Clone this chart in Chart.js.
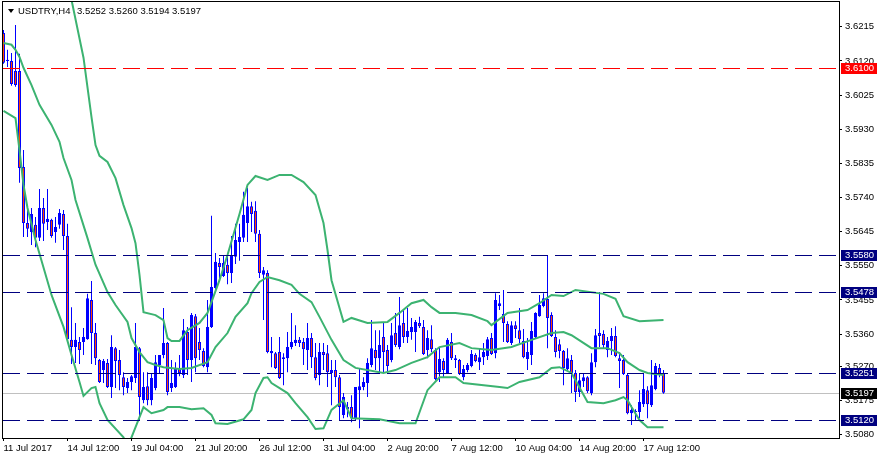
<!DOCTYPE html>
<html>
<head>
<meta charset="utf-8">
<script src="https://cdn.jsdelivr.net/npm/chart.js@4.4.0/dist/chart.umd.min.js"></script>
<style>
  html, body { margin: 0; padding: 0; background: #fff; }
</style>
</head>
<body>
<canvas id="chart" width="879" height="459"></canvas>
<script>
// USDTRY H4 candles, bar 0 = leftmost visible bar
const opens = [3.6198,3.6120,3.6120,3.6092,3.6092,3.5825,3.5669,3.5644,3.5664,3.5628,
  3.5711,3.5672,3.5678,3.5644,3.5664,3.5694,3.5633,3.5344,3.5324,3.5338,
  3.5338,3.5346,3.5455,3.5363,3.5288,3.5260,3.5280,3.5213,3.5321,3.5288,
  3.5240,3.5210,3.5227,3.5238,3.5321,3.5176,3.5215,3.5176,3.5210,3.5274,
  3.5302,3.5335,3.5210,3.5213,3.5263,3.5246,3.5366,3.5288,3.5410,3.5338,
  3.5313,3.5268,3.5380,3.5488,3.5558,3.5522,3.5553,3.5530,3.5575,3.5616,
  3.5628,3.5669,3.5716,3.5703,3.5639,3.5525,3.5530,3.5307,3.5307,3.5310,
  3.5291,3.5293,3.5324,3.5335,3.5344,3.5338,3.5316,3.5349,3.5296,3.5246,
  3.5310,3.5307,3.5252,3.5260,3.5240,3.5135,3.5151,3.5157,3.5123,3.5204,
  3.5213,3.5224,3.5274,3.5316,3.5293,3.5352,3.5316,3.5288,3.5363,3.5324,
  3.5391,3.5352,3.5366,3.5366,3.5391,3.5380,3.5316,3.5346,3.5316,3.5254,
  3.5285,3.5252,3.5338,3.5288,3.5288,3.5240,3.5260,3.5271,3.5302,3.5282,
  3.5296,3.5299,3.5349,3.5307,3.5438,3.5416,3.5388,3.5335,3.5385,3.5371,
  3.5341,3.5291,3.5302,3.5352,3.5410,3.5438,3.5458,3.5413,3.5352,3.5332,
  3.5313,3.5263,3.5288,3.5252,3.5199,3.5229,3.5240,3.5196,3.5282,3.5363,
  3.5360,3.5316,3.5341,3.5355,3.5293,3.5288,3.5246,3.5140,3.5143,3.5143,
  3.5165,3.5204,3.5162,3.5207,3.5266,3.5252];
const highs = [3.6206,3.6151,3.6142,3.6220,3.6140,3.5872,3.5714,3.5711,3.5686,3.5764,
  3.5739,3.5764,3.5681,3.5686,3.5708,3.5705,3.5667,3.5435,3.5391,3.5352,
  3.5377,3.5472,3.5508,3.5391,3.5291,3.5291,3.5291,3.5357,3.5324,3.5316,
  3.5254,3.5238,3.5246,3.5391,3.5324,3.5254,3.5254,3.5252,3.5302,3.5302,
  3.5433,3.5338,3.5288,3.5282,3.5302,3.5402,3.5380,3.5419,3.5416,3.5377,
  3.5321,3.5455,3.5689,3.5586,3.5572,3.5577,3.5580,3.5633,3.5667,3.5667,
  3.5756,3.5767,3.5728,3.5730,3.5650,3.5547,3.5538,3.5352,3.5310,3.5352,
  3.5307,3.5366,3.5419,3.5385,3.5352,3.5349,3.5391,3.5363,3.5335,3.5335,
  3.5335,3.5330,3.5288,3.5288,3.5246,3.5196,3.5171,3.5190,3.5213,3.5263,
  3.5240,3.5293,3.5399,3.5371,3.5371,3.5394,3.5330,3.5391,3.5419,3.5463,
  3.5427,3.5433,3.5405,3.5399,3.5408,3.5399,3.5371,3.5385,3.5321,3.5324,
  3.5293,3.5349,3.5363,3.5302,3.5291,3.5274,3.5280,3.5316,3.5307,3.5321,
  3.5335,3.5352,3.5363,3.5474,3.5469,3.5483,3.5396,3.5396,3.5396,3.5433,
  3.5374,3.5349,3.5394,3.5421,3.5469,3.5474,3.5580,3.5421,3.5371,3.5346,
  3.5316,3.5321,3.5302,3.5260,3.5249,3.5252,3.5243,3.5307,3.5374,3.5477,
  3.5371,3.5352,3.5377,3.5382,3.5310,3.5302,3.5252,3.5162,3.5151,3.5204,
  3.5252,3.5215,3.5288,3.5280,3.5277,3.5260];
const lows = [3.6112,3.6103,3.6051,3.6048,3.5781,3.5630,3.5630,3.5608,3.5602,3.5619,
  3.5619,3.5650,3.5628,3.5614,3.5653,3.5594,3.5344,3.5277,3.5280,3.5277,
  3.5302,3.5344,3.5277,3.5274,3.5224,3.5224,3.5210,3.5182,3.5210,3.5204,
  3.5190,3.5196,3.5204,3.5224,3.5121,3.5168,3.5162,3.5162,3.5204,3.5252,
  3.5293,3.5190,3.5199,3.5210,3.5243,3.5238,3.5246,3.5227,3.5254,3.5288,
  3.5268,3.5254,3.5377,3.5477,3.5505,3.5519,3.5499,3.5502,3.5555,3.5564,
  3.5616,3.5616,3.5644,3.5616,3.5516,3.5399,3.5307,3.5268,3.5263,3.5235,
  3.5218,3.5254,3.5318,3.5327,3.5324,3.5274,3.5260,3.5266,3.5232,3.5218,
  3.5260,3.5213,3.5162,3.5213,3.5121,3.5126,3.5129,3.5115,3.5121,3.5098,
  3.5204,3.5185,3.5268,3.5260,3.5254,3.5252,3.5252,3.5282,3.5324,3.5318,
  3.5335,3.5335,3.5344,3.5310,3.5377,3.5302,3.5293,3.5310,3.5232,3.5227,
  3.5240,3.5249,3.5288,3.5266,3.5246,3.5232,3.5254,3.5268,3.5282,3.5260,
  3.5274,3.5288,3.5302,3.5293,3.5427,3.5338,3.5335,3.5330,3.5349,3.5335,
  3.5293,3.5260,3.5274,3.5349,3.5408,3.5435,3.5321,3.5352,3.5296,3.5293,
  3.5218,3.5260,3.5196,3.5171,3.5185,3.5213,3.5196,3.5190,3.5268,3.5324,
  3.5321,3.5296,3.5302,3.5296,3.5210,3.5246,3.5137,3.5107,3.5121,3.5126,
  3.5157,3.5126,3.5157,3.5204,3.5240,3.5194];
const closes = [3.6115,3.6123,3.6056,3.6053,3.5822,3.5669,3.5653,3.5694,3.5628,3.5711,
  3.5667,3.5681,3.5633,3.5658,3.5697,3.5633,3.5346,3.5324,3.5344,3.5316,
  3.5352,3.5460,3.5363,3.5293,3.5227,3.5285,3.5213,3.5324,3.5285,3.5246,
  3.5213,3.5227,3.5243,3.5324,3.5185,3.5213,3.5176,3.5238,3.5282,3.5302,
  3.5335,3.5199,3.5224,3.5266,3.5252,3.5371,3.5288,3.5413,3.5293,3.5316,
  3.5271,3.5380,3.5491,3.5561,3.5547,3.5558,3.5530,3.5577,3.5622,3.5630,
  3.5692,3.5716,3.5694,3.5639,3.5530,3.5538,3.5310,3.5313,3.5266,3.5238,
  3.5296,3.5324,3.5338,3.5344,3.5335,3.5318,3.5349,3.5296,3.5238,3.5310,
  3.5302,3.5254,3.5260,3.5240,3.5157,3.5185,3.5157,3.5126,3.5213,3.5215,
  3.5227,3.5280,3.5321,3.5293,3.5330,3.5310,3.5271,3.5357,3.5330,3.5385,
  3.5352,3.5369,3.5380,3.5394,3.5382,3.5305,3.5349,3.5318,3.5235,3.5291,
  3.5260,3.5344,3.5293,3.5293,3.5249,3.5263,3.5274,3.5305,3.5285,3.5296,
  3.5310,3.5346,3.5305,3.5455,3.5446,3.5391,3.5338,3.5385,3.5374,3.5346,
  3.5296,3.5310,3.5369,3.5419,3.5441,3.5460,3.5405,3.5355,3.5310,3.5313,
  3.5266,3.5293,3.5252,3.5199,3.5232,3.5240,3.5201,3.5282,3.5357,3.5355,
  3.5330,3.5341,3.5355,3.5299,3.5285,3.5249,3.5140,3.5149,3.5146,3.5171,
  3.5207,3.5165,3.5218,3.5271,3.5249,3.5197];

// Bollinger bands, read at these bar indexes
const upperIdx = [14,17,20,22,23,24,26,28,30,32,33,34,35,38,40,41,42,44,46,49,
  51,54,56,59,61,63,66,69,72,75,78,80,81,82,85,87,91,96,99,102,
  105,107,109,113,117,121,122,126,131,134,137,140,143,150,153,155,159,165];
const upperVal = [3.6493,3.6290,3.6129,3.5964,3.5886,3.5856,3.5839,3.5794,3.5719,3.5655,
  3.5613,3.5525,3.5421,3.5413,3.5399,3.5349,3.5341,3.5341,3.5371,3.5391,
  3.5419,3.5510,3.5580,3.5694,3.5775,3.5800,3.5789,3.5803,3.5803,3.5783,
  3.5747,3.5669,3.5594,3.5510,3.5394,3.5405,3.5391,3.5394,3.5419,3.5446,
  3.5455,3.5435,3.5419,3.5419,3.5413,3.5396,3.5385,3.5419,3.5427,3.5446,
  3.5469,3.5466,3.5483,3.5472,3.5458,3.5410,3.5396,3.5399];
const middleIdx = [0,2,3,4,5,7,9,12,14,15,17,18,21,23,26,28,31,32,34,36,
  38,40,44,47,51,53,56,58,61,62,64,66,69,72,74,77,79,82,85,88,
  95,98,102,106,109,114,117,122,127,132,137,140,142,147,151,154,156,159,161,165];
const middleVal = [3.6170,3.6165,3.6151,3.6131,3.6101,3.6053,3.5998,3.5942,3.5895,3.5850,
  3.5789,3.5733,3.5627,3.5553,3.5477,3.5441,3.5394,3.5349,3.5310,3.5282,
  3.5274,3.5268,3.5263,3.5266,3.5282,3.5324,3.5363,3.5408,3.5446,3.5474,
  3.5505,3.5519,3.5510,3.5497,3.5472,3.5449,3.5408,3.5344,3.5288,3.5266,
  3.5252,3.5260,3.5280,3.5296,3.5324,3.5335,3.5321,3.5316,3.5324,3.5344,
  3.5363,3.5366,3.5357,3.5321,3.5321,3.5307,3.5282,3.5260,3.5252,3.5246];
const lowerIdx = [0,3,4,5,6,8,12,15,17,19,20,22,23,24,26,30,31,32,35,37,
  40,41,44,47,50,52,53,56,60,62,63,65,66,67,71,73,76,78,80,82,
  85,87,94,99,103,106,109,113,115,124,126,129,134,137,139,142,146,150,153,155,
  156,157,159,161,165];
const lowerVal = [3.5981,3.5961,3.5872,3.5775,3.5711,3.5622,3.5469,3.5380,3.5302,3.5227,
  3.5188,3.5210,3.5213,3.5168,3.5121,3.5073,3.5043,3.5073,3.5157,3.5140,
  3.5149,3.5157,3.5157,3.5151,3.5154,3.5135,3.5112,3.5110,3.5123,3.5149,
  3.5196,3.5238,3.5240,3.5224,3.5196,3.5168,3.5129,3.5096,3.5098,3.5149,
  3.5176,3.5126,3.5123,3.5112,3.5112,3.5204,3.5240,3.5240,3.5224,3.5213,
  3.5210,3.5227,3.5240,3.5266,3.5268,3.5252,3.5171,3.5168,3.5176,3.5185,
  3.5176,3.5157,3.5121,3.5101,3.5101];

// horizontal lines and price labels
const redLevels = [3.6100];
const blueLevels = [3.5580, 3.5478, 3.5251, 3.5120];
const bidLevel = 3.5197;

const yTicks = [3.5080,3.5175,3.5270,3.5360,3.5455,3.5550,3.5645,3.5740,3.5835,3.5930,3.6025,3.6120,3.6215];
const xTickIdx = [0,16,32,48,64,80,96,112,128,144,160];
const xTickLabels = ['11 Jul 2017','14 Jul 12:00','19 Jul 04:00','21 Jul 20:00','26 Jul 12:00',
  '31 Jul 04:00','2 Aug 20:00','7 Aug 12:00','10 Aug 04:00','14 Aug 20:00','17 Aug 12:00'];

const FONT = 'Liberation Sans';
const green = '#3cb371';
const blue = '#0000ff';
const bear = '#ff4500';
const navy = '#000080';

const bandLine = (idx, vals) => ({
  type: 'line',
  data: idx.map((x, k) => ({ x: x, y: vals[k] })),
  borderColor: green,
  borderWidth: 2,
  pointRadius: 0,
  tension: 0,
  order: 0
});

function hline(ctx, a, y, color, dash) {
  const py = Math.round(y) + 0.5;
  ctx.save();
  ctx.strokeStyle = color;
  ctx.lineWidth = 1;
  ctx.setLineDash(dash);
  ctx.beginPath();
  ctx.moveTo(a.left, py);
  ctx.lineTo(a.right, py);
  ctx.stroke();
  ctx.restore();
}

function priceBox(ctx, y, val, bg) {
  const py = Math.round(y);
  ctx.fillStyle = bg;
  ctx.fillRect(841, py - 5, 36, 11);
  ctx.fillStyle = '#fff';
  ctx.font = '9.5px "' + FONT + '"';
  ctx.textBaseline = 'middle';
  ctx.textAlign = 'left';
  ctx.fillText(val.toFixed(4), 845, py + 0.5);
}

const overlay = {
  id: 'overlay',
  beforeDatasetsDraw(chart) {
    const { ctx, chartArea: a, scales: { y } } = chart;
    hline(ctx, a, y.getPixelForValue(bidLevel), '#c0c0c0', []);
  },
  afterDatasetsDraw(chart) {
    const { ctx, chartArea: a, scales: { y } } = chart;
    redLevels.forEach(v => hline(ctx, a, y.getPixelForValue(v), '#ff0000', [17, 7]));
    blueLevels.forEach(v => hline(ctx, a, y.getPixelForValue(v), navy, [17, 7]));
  },
  afterDraw(chart) {
    const { ctx, chartArea: a, scales: { y } } = chart;
    ctx.save();
    // frame
    ctx.strokeStyle = '#000';
    ctx.lineWidth = 1;
    ctx.strokeRect(a.left - 0.5, a.top - 0.5, a.right - a.left + 1, a.bottom - a.top + 1);
    // price boxes on the right
    redLevels.forEach(v => priceBox(ctx, y.getPixelForValue(v), v, '#ff0000'));
    blueLevels.forEach(v => priceBox(ctx, y.getPixelForValue(v), v, navy));
    priceBox(ctx, y.getPixelForValue(bidLevel), bidLevel, '#000');
    // title
    const n = closes.length - 1;
    ctx.fillStyle = '#000';
    ctx.beginPath();
    ctx.moveTo(8, 9); ctx.lineTo(14, 9); ctx.lineTo(11, 13); ctx.closePath();
    ctx.fill();
    ctx.font = '9.5px "' + FONT + '"';
    ctx.textBaseline = 'middle';
    ctx.textAlign = 'left';
    ctx.fillText('USDTRY,H4', 18, 11);
    ctx.fillText([opens[n], highs[n], lows[n], closes[n]].map(v => v.toFixed(4)).join(' '), 77, 11);
    ctx.restore();
  }
};

new Chart(document.getElementById('chart'), {
  type: 'bar',
  data: {
    datasets: [
      bandLine(upperIdx, upperVal),
      bandLine(middleIdx, middleVal),
      bandLine(lowerIdx, lowerVal),
      {
        // candle bodies, open -> close
        data: opens.map((o, i) => ({ x: i, y: [o, closes[i]] })),
        grouped: false,
        barPercentage: 1,
        categoryPercentage: 1,
        maxBarThickness: 3,
        minBarLength: 1,
        borderSkipped: false,
        borderWidth: 1,
        inflateAmount: 0,
        borderColor: blue,
        backgroundColor: c => closes[c.dataIndex] >= opens[c.dataIndex] ? blue : bear,
        order: 1
      },
      {
        // wicks, low -> high
        data: opens.map((o, i) => ({ x: i, y: [lows[i], highs[i]] })),
        grouped: false,
        barPercentage: 1,
        categoryPercentage: 1,
        maxBarThickness: 1,
        borderWidth: 0,
        inflateAmount: 0,
        backgroundColor: blue,
        order: 2
      }
    ]
  },
  options: {
    responsive: false,
    animation: false,
    events: [],
    layout: { padding: { left: 3, top: 2, right: 0, bottom: 0 } },
    plugins: { legend: { display: false }, tooltip: { enabled: false } },
    scales: {
      x: {
        type: 'linear',
        min: -0.125,
        max: 208.875,
        offset: false,
        border: { display: false },
        grid: { display: true, drawOnChartArea: false, drawTicks: true, tickLength: 3, color: '#000', offset: false },
        ticks: {
          autoSkip: false, maxRotation: 0, align: 'start', padding: 2, color: '#000',
          font: { family: FONT, size: 9.5 },
          callback: (v, k) => xTickLabels[k]
        },
        afterBuildTicks: s => { s.ticks = xTickIdx.map(v => ({ value: v })); },
        afterFit: s => { s.height = 21; s.paddingLeft = 0; s.paddingRight = 0; }
      },
      y: {
        position: 'right',
        min: 3.5071,
        max: 3.6284,
        border: { display: false },
        grid: { display: true, drawOnChartArea: false, drawTicks: true, tickLength: 3, color: '#000' },
        ticks: {
          padding: 3, color: '#000',
          font: { family: FONT, size: 9.5 },
          callback: v => v.toFixed(4)
        },
        afterBuildTicks: s => { s.ticks = yTicks.map(v => ({ value: v })); },
        afterFit: s => { s.width = 40; s.paddingTop = 0; s.paddingBottom = 0; }
      }
    }
  },
  plugins: [overlay]
});
</script>
</body>
</html>
